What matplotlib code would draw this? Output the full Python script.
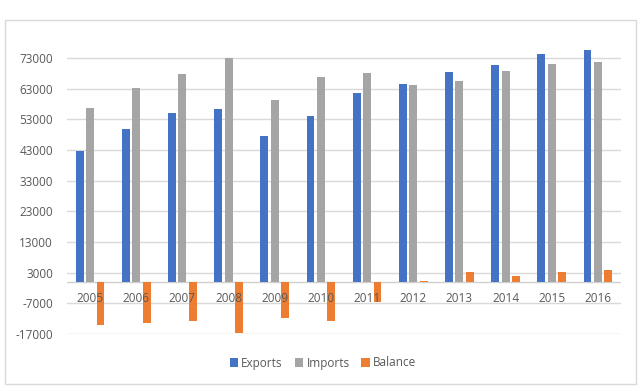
import matplotlib
matplotlib.use("Agg")
import matplotlib.pyplot as plt
from matplotlib.patches import Rectangle
import numpy as np

years = ["2005", "2006", "2007", "2008", "2009", "2010", "2011", "2012", "2013", "2014", "2015", "2016"]
exports = [42700, 49700, 54900, 56200, 47700, 54000, 61500, 64400, 68400, 70600, 74200, 75700]
imports = [56600, 63300, 67700, 73000, 59300, 66900, 68000, 64100, 65400, 68800, 71000, 71600]
balance = [-14000, -13500, -12900, -16700, -11800, -12800, -6500, 300, 3100, 1800, 3100, 4000]
yticks = [-17000, -7000, 3000, 13000, 23000, 33000, 43000, 53000, 63000, 73000]

plt.rcParams['font.family'] = ['Open Sans', 'DejaVu Sans']
txt = '#595959'
grid = '#d9d9d9'

fig = plt.figure(figsize=(6.4, 3.91), dpi=100)
fig.patches.append(Rectangle((5/640, 1 - 384/391), 631/640, 364/391, transform=fig.transFigure,
                             fill=False, edgecolor=grid, linewidth=1.0))

ax = fig.add_axes([67/640, 57/391, 554/640, 297.5/391])
x = np.arange(len(years))
w = 0.17
step = 0.225
ax.bar(x - step, exports, w, color='#4472C4', label='Exports', zorder=2)
ax.bar(x, imports, w, color='#A5A5A5', label='Imports', zorder=2)
ax.bar(x + step, balance, w, color='#ED7D31', label='Balance', zorder=2)

for t in yticks:
    ax.axhline(t, color=grid, linewidth=1.0, zorder=1)
ax.axhline(0, color='#d0d0d0', linewidth=1.0, zorder=1.5)

ax.set_xlim(-0.5, len(years) - 0.5)
ax.set_ylim(-17000, 80000)
ax.set_yticks(yticks)
ax.set_yticklabels([str(t) for t in yticks])
ax.tick_params(axis='y', length=0, pad=10, labelsize=8.5, labelcolor=txt)
ax.set_xticks([])
for s in ax.spines.values():
    s.set_visible(False)

for i, yl in enumerate(years):
    ax.annotate(yl, xy=(x[i], 0), xytext=(0, -17), textcoords='offset pixels',
                ha='center', va='center', fontsize=8.5, color=txt, zorder=5)

leg = fig.legend(loc='center', bbox_to_anchor=(323/640, 1 - 363/391), ncol=3, frameon=False,
                 fontsize=8.5, handlelength=0.7, handleheight=0.7, handletextpad=0.3,
                 columnspacing=1.0, labelcolor=txt)

fig.savefig('out.png', dpi=100)
